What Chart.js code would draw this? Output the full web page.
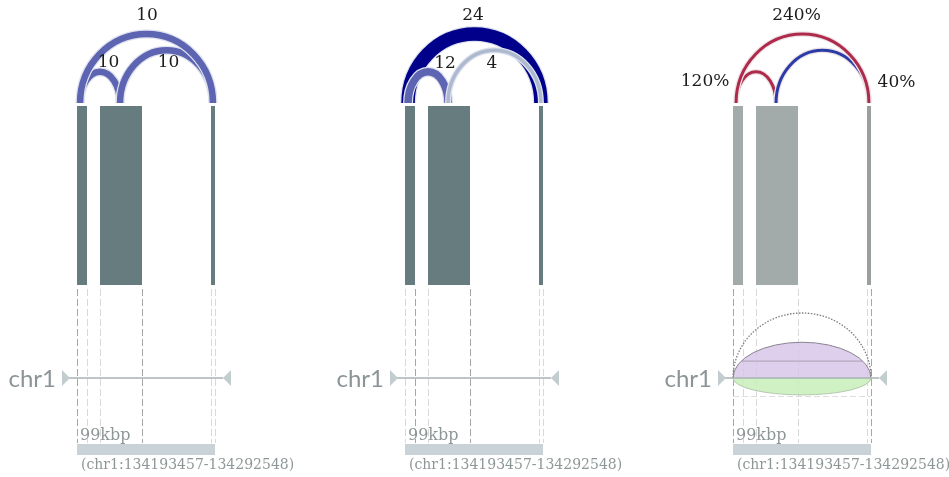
<!DOCTYPE html>
<html>
<head>
<meta charset="utf-8">
<script src="https://cdn.jsdelivr.net/npm/chart.js@4.4.0/dist/chart.umd.min.js"></script>
<style>
  html, body { margin: 0; padding: 0; background: #fff; overflow: hidden; }
  canvas { display: block; }
</style>
</head>
<body>
<canvas id="grafico" width="949" height="477"></canvas>
<script>
// regiao chr1:134193457-134292548 (posicoes em kb a partir do inicio)
const cromossomo = 'chr1';
const regiaoInicio = 134193457;
const regiaoFim = 134292548;

const exonInicio = [0, 16.5, 96.2];
const exonFim = [7.2, 46.7, 99.1];

// juncoes (ancoras em kb)
const juncaoDe = [2.2, 30.9, 2.2];
const juncaoPara = [30.9, 97.6, 97.6];

// leituras por amostra
const leiturasA = [10, 10, 10];
const leiturasB = [12, 4, 24];
// razao B / A em %
const razaoPct = [120, 40, 240];

// perfil do painel de comparacao (% da referencia)
const elipseValores = [100, 55, 26];

// ---- layout (pixels) ----
const origemPainel = [77, 405, 733];
const larguraRegiao = 138;
const pxPorKb = larguraRegiao / ((regiaoFim - regiaoInicio) / 1000);
const topoExon = 106, baseExon = 285, baseArco = 103, yCromo = 378;
const rotuloDesloc = [
  [[8.5, -9], [2, 12], [0.5, -18]],
  [[17, -8], [-2.5, 13], [-1.5, -18]],
  [[-51, 10], [74, 32], [-6, -18]]
];
const tracoEscuro = [[0, 3], [1, 3], [0, 5]];

function corContagem(n) {
  if (n >= 20) return '#00008b';
  if (n >= 8) return '#5d65b3';
  return '#adb9cf';
}
function corRazao(p) {
  return p >= 100 ? '#ae2a4b' : '#2b3ca6';
}

const paineis = [
  { valores: leiturasA, tipo: 'contagem', corExon: ['#677c7e', '#677c7e', '#677c7e'] },
  { valores: leiturasB, tipo: 'contagem', corExon: ['#677c7e', '#677c7e', '#677c7e'] },
  { valores: razaoPct, tipo: 'razao', corExon: ['#a3aaaa', '#a3aaaa', '#999f9f'] }
];

const escalas = {
  y: { type: 'linear', min: 0, max: 477, reverse: true, display: false }
};
const datasets = [];
paineis.forEach((p, i) => {
  escalas['x' + i] = {
    type: 'linear', display: false,
    min: -origemPainel[i] / pxPorKb,
    max: (949 - origemPainel[i]) / pxPorKb
  };
  exonInicio.forEach((s, j) => {
    datasets.push({
      xAxisID: 'x' + i,
      data: [{ x: s, y: topoExon }, { x: exonFim[j], y: topoExon }],
      borderWidth: 0,
      pointRadius: 0,
      backgroundColor: p.corExon[j],
      fill: { target: { value: baseExon } }
    });
  });
});

const sashimiPlugin = {
  id: 'sashimi',
  beforeDatasetsDraw(chart) {
    const ctx = chart.ctx;
    const ys = chart.scales.y;
    ctx.save();
    paineis.forEach((p, i) => {
      const xs = chart.scales['x' + i];
      const x0 = xs.getPixelForValue(0);
      const x1 = xs.getPixelForValue((regiaoFim - regiaoInicio) / 1000);

      // linhas tracejadas nas bordas dos exons
      const bordas = [];
      exonInicio.forEach((s, j) => { bordas.push(s, exonFim[j]); });
      ctx.setLineDash([7, 3]);
      ctx.lineWidth = 1;
      bordas.forEach((b, k) => {
        const x = Math.round(xs.getPixelForValue(b)) + 0.5;
        ctx.strokeStyle = tracoEscuro[i].includes(k) ? '#a6a6a6' : '#d9d9d9';
        ctx.beginPath();
        ctx.moveTo(x, ys.getPixelForValue(289));
        ctx.lineTo(x, ys.getPixelForValue(443));
        ctx.stroke();
      });
      ctx.setLineDash([]);

      if (p.tipo === 'razao') {
        const cx = (xs.getPixelForValue(exonInicio[0]) + xs.getPixelForValue(exonFim[2])) / 2;
        const rx = (xs.getPixelForValue(exonFim[2]) - xs.getPixelForValue(exonInicio[0])) / 2;
        const yc = ys.getPixelForValue(yCromo);
        const alt = v => v / 100 * 65;
        // tracejado horizontal inferior
        ctx.setLineDash([6, 3]);
        ctx.strokeStyle = '#dedede';
        ctx.beginPath();
        ctx.moveTo(cx - rx, yc + 18.5);
        ctx.lineTo(cx + rx, yc + 18.5);
        ctx.stroke();
        ctx.setLineDash([]);
        // ganho (roxo)
        ctx.fillStyle = 'rgba(214,196,232,0.8)';
        ctx.beginPath();
        ctx.ellipse(cx, yc, rx, alt(elipseValores[1]), 0, Math.PI, 2 * Math.PI);
        ctx.closePath();
        ctx.fill();
        ctx.strokeStyle = '#8a8290';
        ctx.lineWidth = 1;
        ctx.beginPath();
        ctx.ellipse(cx, yc, rx, alt(elipseValores[1]), 0, Math.PI, 2 * Math.PI);
        ctx.stroke();
        // perda (verde)
        ctx.fillStyle = 'rgba(200,238,186,0.85)';
        ctx.beginPath();
        ctx.ellipse(cx, yc, rx, alt(elipseValores[2]), 0, 0, Math.PI);
        ctx.closePath();
        ctx.fill();
        ctx.strokeStyle = '#b4c8ae';
        ctx.beginPath();
        ctx.ellipse(cx, yc, rx, alt(elipseValores[2]), 0, 0, Math.PI);
        ctx.stroke();
        // espelho da perda
        const hy = yc - alt(elipseValores[2]);
        const dx = rx * Math.sqrt(1 - Math.pow(alt(elipseValores[2]) / alt(elipseValores[1]), 2));
        ctx.strokeStyle = '#a99cb3';
        ctx.beginPath();
        ctx.moveTo(cx - dx, hy);
        ctx.lineTo(cx + dx, hy);
        ctx.stroke();
        // referencia pontilhada
        ctx.setLineDash([1.5, 1.5]);
        ctx.strokeStyle = '#7c7c7c';
        ctx.lineWidth = 1.3;
        ctx.beginPath();
        ctx.ellipse(cx, yc, rx, alt(elipseValores[0]), 0, Math.PI, 2 * Math.PI);
        ctx.stroke();
        ctx.setLineDash([]);
      }

      // linha do cromossomo com setas
      const yc = ys.getPixelForValue(yCromo);
      ctx.strokeStyle = '#a9b2b4';
      ctx.lineWidth = 1.5;
      ctx.beginPath();
      ctx.moveTo(x0 - 8, yc);
      ctx.lineTo(x1 + 8, yc);
      ctx.stroke();
      ctx.fillStyle = '#c3cdd0';
      ctx.beginPath();
      ctx.moveTo(x0 - 15, yc - 8);
      ctx.lineTo(x0 - 15, yc + 8);
      ctx.lineTo(x0 - 7, yc);
      ctx.closePath();
      ctx.fill();
      ctx.beginPath();
      ctx.moveTo(x1 + 16, yc - 8);
      ctx.lineTo(x1 + 16, yc + 8);
      ctx.lineTo(x1 + 8, yc);
      ctx.closePath();
      ctx.fill();

      ctx.fillStyle = '#8b9598';
      ctx.font = '24px Lato';
      ctx.textAlign = 'right';
      ctx.textBaseline = 'alphabetic';
      ctx.fillText(cromossomo, x0 - 21, yc + 9);

      // barra de escala
      ctx.fillStyle = '#c9d3d7';
      ctx.fillRect(x0, ys.getPixelForValue(444), x1 - x0, 11);
      ctx.fillStyle = '#8e9797';
      ctx.font = '16px "DejaVu Serif"';
      ctx.textAlign = 'left';
      ctx.fillText(Math.round((regiaoFim - regiaoInicio) / 1000) + 'kbp', x0 + 3, ys.getPixelForValue(440));
      ctx.font = '14px "DejaVu Serif"';
      ctx.fillText('(' + cromossomo + ':' + regiaoInicio + '-' + regiaoFim + ')', x0 + 4, ys.getPixelForValue(469));
    });
    ctx.restore();
  },
  afterDatasetsDraw(chart) {
    const ctx = chart.ctx;
    const ys = chart.scales.y;
    ctx.save();
    paineis.forEach((p, i) => {
      const xs = chart.scales['x' + i];
      const yb = ys.getPixelForValue(baseArco);
      const arcos = juncaoDe.map((d, j) => {
        const a = xs.getPixelForValue(d);
        const b = xs.getPixelForValue(juncaoPara[j]);
        const rx = (b - a) / 2;
        const v = p.valores[j];
        const largura = p.tipo === 'razao' ? 3 : 1.5 + v / 2;
        const cor = p.tipo === 'razao' ? corRazao(v) : corContagem(v);
        return { j, cx: (a + b) / 2, rx, ry: rx + 15 * (1 - rx / 80), largura, cor, v };
      });
      arcos.slice().sort((m, n) => n.largura - m.largura).forEach(a => {
        ctx.lineCap = 'butt';
        ctx.beginPath();
        ctx.ellipse(a.cx, yb, a.rx, a.ry, 0, Math.PI, 2 * Math.PI);
        ctx.strokeStyle = p.tipo === 'razao' ? '#eee4e8' : '#dfe2ee';
        ctx.lineWidth = a.largura + 2.5;
        ctx.stroke();
        ctx.strokeStyle = a.cor;
        ctx.lineWidth = a.largura;
        ctx.stroke();
      });
      ctx.fillStyle = '#1c1c1c';
      ctx.font = '17px "DejaVu Serif"';
      ctx.textAlign = 'center';
      ctx.textBaseline = 'middle';
      arcos.forEach(a => {
        const d = rotuloDesloc[i][a.j];
        const texto = p.tipo === 'razao' ? a.v + '%' : String(a.v);
        ctx.fillText(texto, a.cx + d[0], yb - a.ry + d[1]);
      });
    });
    ctx.restore();
  }
};

new Chart(document.getElementById('grafico'), {
  type: 'line',
  data: { datasets: datasets },
  options: {
    responsive: false,
    animation: false,
    devicePixelRatio: 1,
    events: [],
    layout: { padding: 0 },
    scales: escalas,
    plugins: { legend: { display: false }, tooltip: { enabled: false } }
  },
  plugins: [sashimiPlugin]
});
</script>
</body>
</html>
